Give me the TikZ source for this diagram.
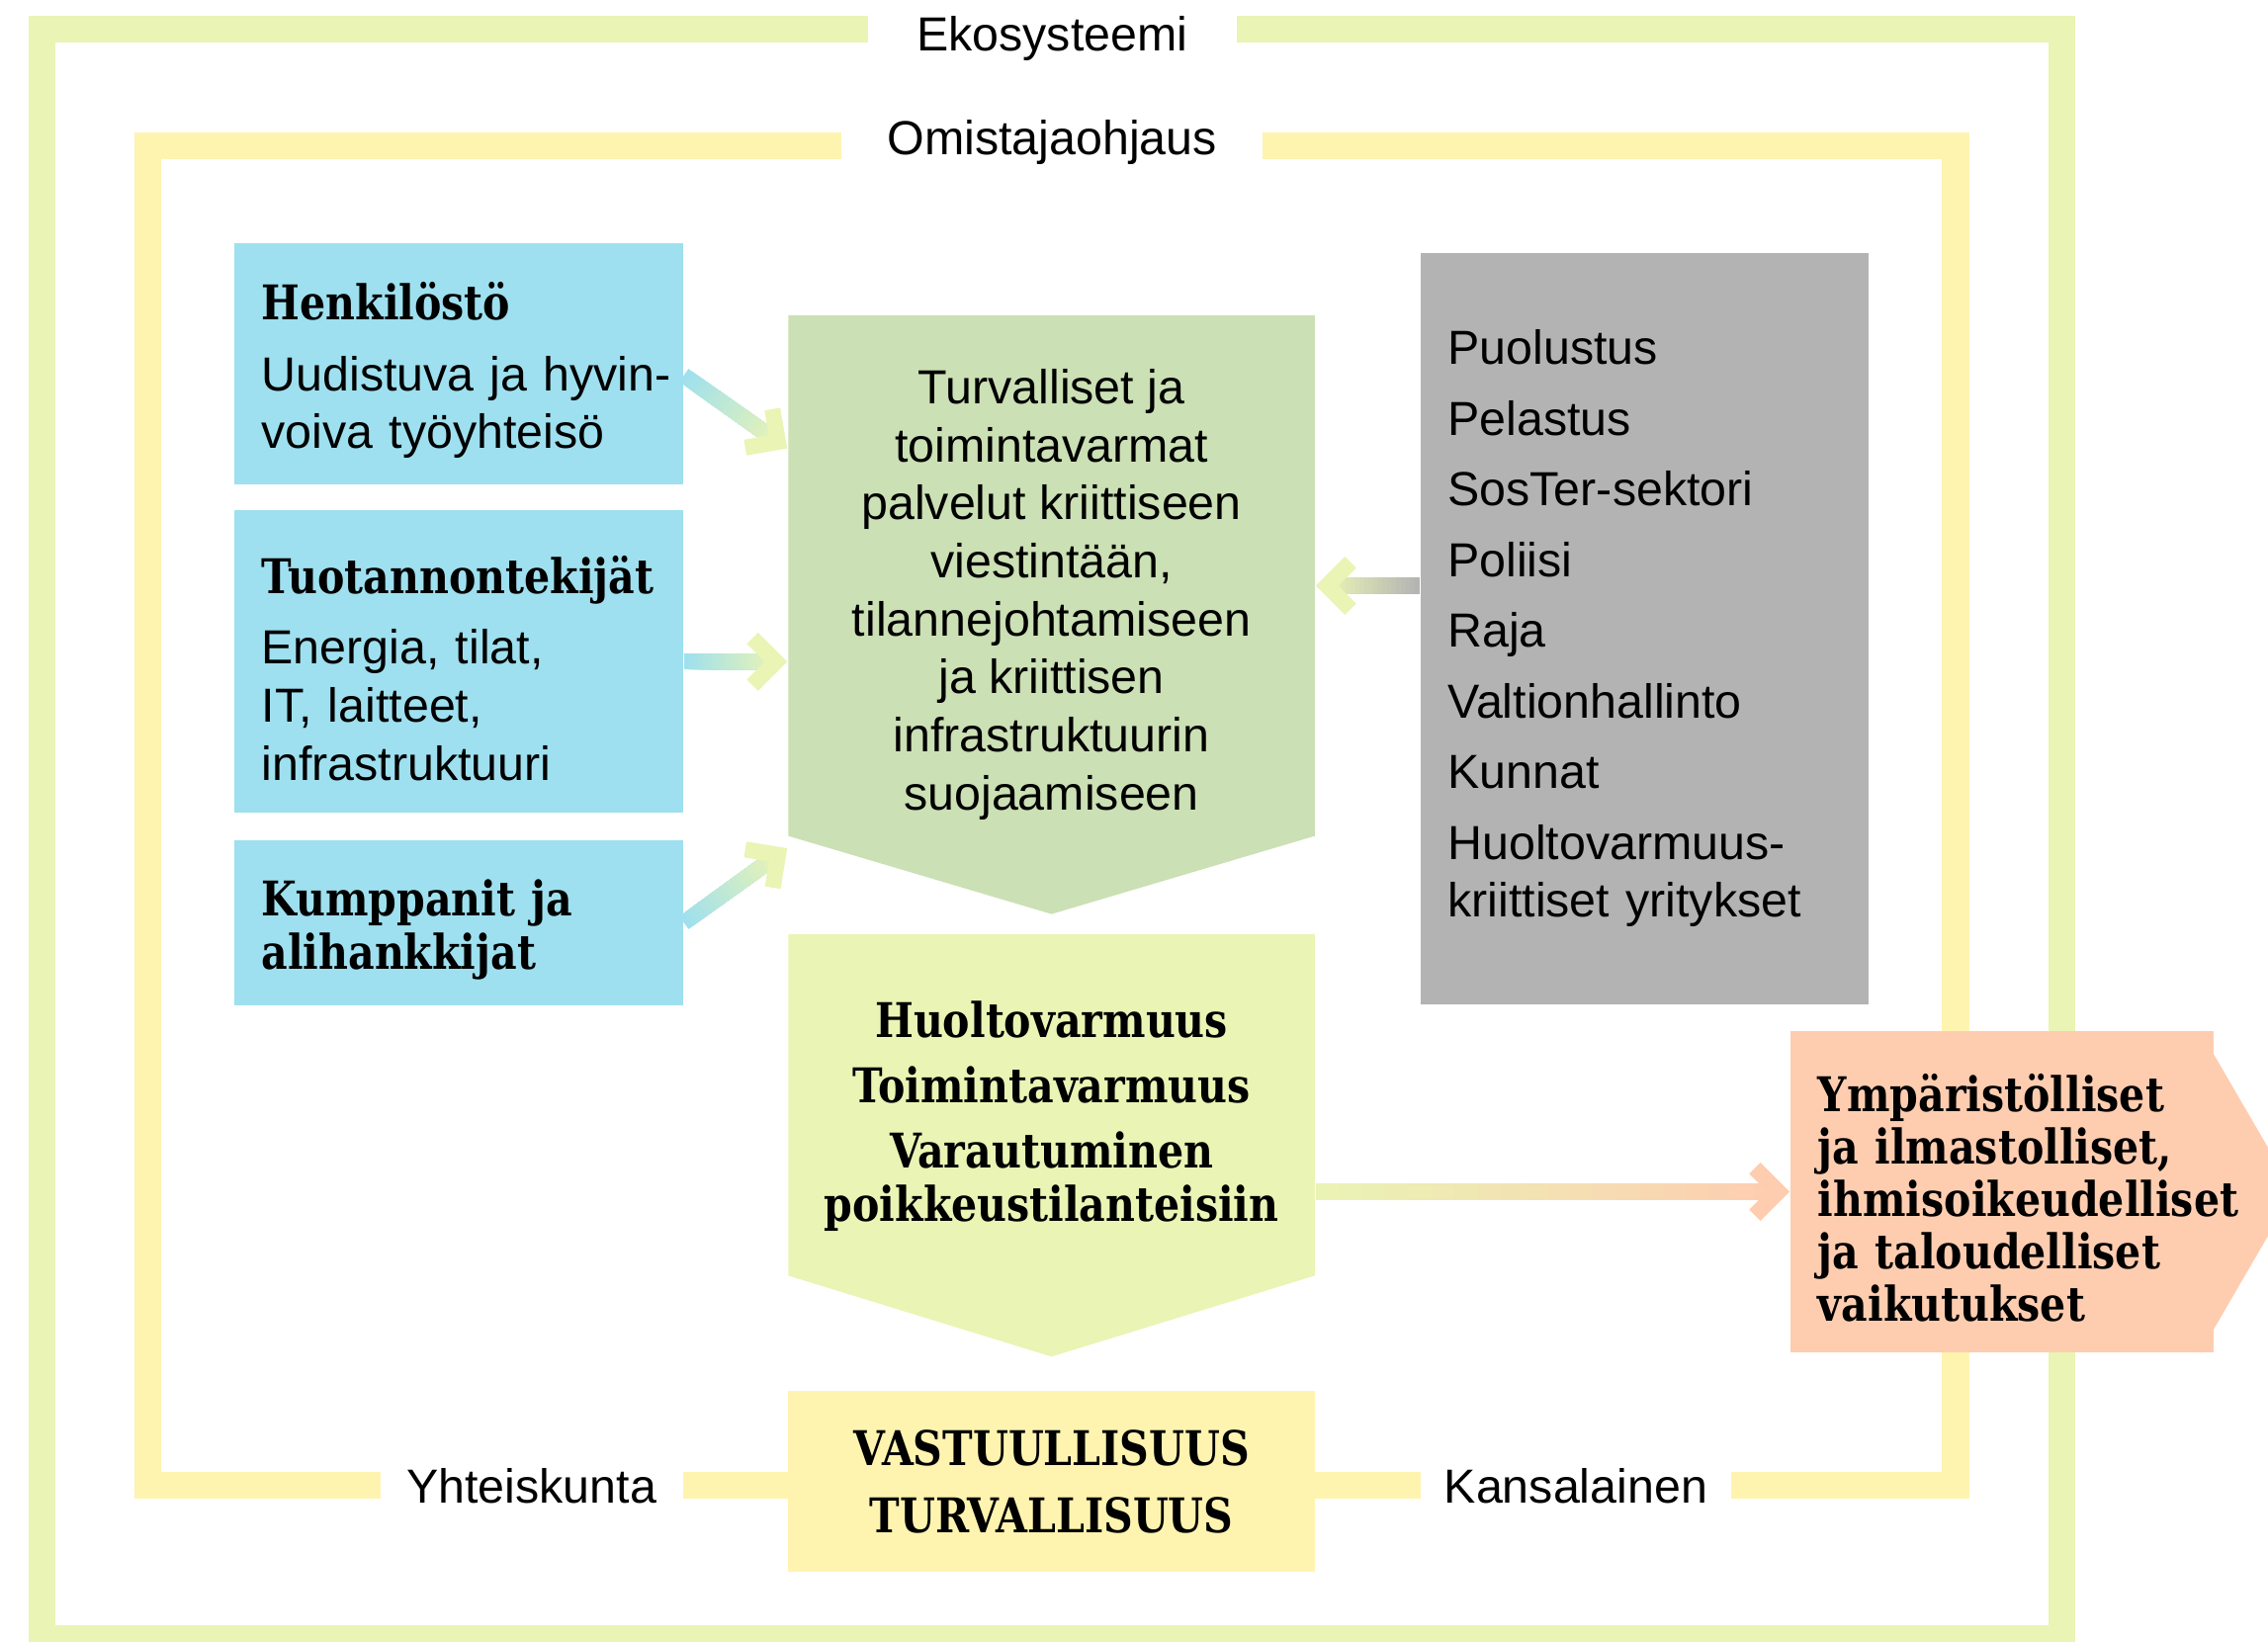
\documentclass[tikz,border=0pt]{standalone}
\usepackage{fontspec}
\setmainfont{Liberation Sans}
\newfontfamily\slab{DejaVu Serif}[FakeStretch=0.85]
\usetikzlibrary{calc}
\pgfdeclarelayer{background}
\pgfsetlayers{background,main}
\definecolor{ecogreen}{HTML}{EAF4B4}
\definecolor{ownyellow}{HTML}{FEF4B0}
\definecolor{boxblue}{HTML}{9EE0EF}
\definecolor{servgreen}{HTML}{CBE0B4}
\definecolor{govgray}{HTML}{B3B3B3}
\definecolor{impact}{HTML}{FECDB0}
\newcommand\plainfnt{\fontsize{9.4}{11.4}\selectfont}
\newcommand\slabfnt{\slab\bfseries\fontsize{9.4}{10.5}\selectfont}
\hyphenpenalty=10000
\exhyphenpenalty=10000
\tikzset{
    frame/.style={line width=0.185cm},
    framelabel/.style={fill=white, anchor=base, inner xsep=0pt, inner ysep=0.1cm, font=\plainfnt},
    sidebox/.style={fill=boxblue, minimum width=3.1cm, text width=2.72cm, inner xsep=0.19cm, inner ysep=0pt, align=left, font=\plainfnt},
    lowered/.style={execute at begin node={\rule{0pt}{10pt}}},
    midtext/.style={minimum width=3.64cm, inner xsep=0pt, inner ysep=0pt, align=center},
    shaft/.style={line width=0.11cm}
}
\begin{document}
\begin{tikzpicture}[x=0.01cm, y=-0.01cm]
    \useasboundingbox (0,0) rectangle (1568,1135);
    \draw[frame, ecogreen] (29,20) rectangle (1425.5,1133);
    \draw[frame, ownyellow] (102,100.5) rectangle (1352,1027);
    \node[framelabel, minimum width=2.55cm] (eko) at (727.5,35) {Ekosysteemi};
    \node[framelabel, minimum width=2.91cm] (omis) at (727.5,107) {Omistajaohjaus};
    \node[framelabel, minimum width=2.09cm] (yht) at (367.5,1039) {Yhteiskunta};
    \node[framelabel, minimum width=2.15cm] (kans) at (1089.5,1039) {Kansalainen};

    \fill[servgreen] (545,218) -- (909,218) -- (909,578) -- (727,632) -- (545,578) -- cycle;
    \fill[ecogreen] (545,646) -- (909,646) -- (909,882) -- (727,938) -- (545,882) -- cycle;
    \node[midtext, font=\plainfnt] (serv) at (727,411) {Turvalliset ja\\toimintavarmat\\palvelut kriittiseen\\viestintään,\\tilannejohtamiseen\\ja kriittisen\\infrastruktuurin\\suojaamiseen};
    \node[midtext, font=\slabfnt] (prep) at (727,772) {Huoltovarmuus\\[2.3pt]Toimintavarmuus\\[2.3pt]Varautuminen\\poikkeustilanteisiin};
    \node[midtext, fill=ownyellow, minimum height=1.25cm, font={\slabfnt\fontsize{9.4}{13.1}\selectfont}] (vast) at (727,1024.5) {VASTUULLISUUS\\TURVALLISUUS};

    \node[sidebox, lowered, minimum height=1.67cm] (henk) at (317,251.5) {{\slab\bfseries Henkilöstö}\\[2.5pt]Uudistuva~ja~hyvin-\\voiva~työyhteisö};
    \node[sidebox, lowered, minimum height=2.09cm] (tuot) at (317,457.5) {{\slab\bfseries Tuotannontekijät}\\[2.5pt]Energia, tilat,\\IT, laitteet,\\infrastruktuuri};
    \node[sidebox, lowered, minimum height=1.14cm, font=\slabfnt] (kump) at (317,638) {Kumppanit~ja\\alihankkijat};
    \node[sidebox, fill=govgray, minimum height=5.19cm] (gov) at (1137,434.5) {Puolustus\\[2.5pt]Pelastus\\[2.5pt]SosTer-sektori\\[2.5pt]Poliisi\\[2.5pt]Raja\\[2.5pt]Valtionhallinto\\[2.5pt]Kunnat\\[2.5pt]Huoltovarmuus-\\kriittiset~yritykset};
    \node[sidebox, lowered, fill=impact, minimum width=2.92cm, text width=2.54cm, minimum height=2.22cm, font={\slabfnt\fontsize{9.4}{10.3}\selectfont}] (imp) at (1384,824) {Ympäristölliset\\ja~ilmastolliset,\\ihmisoikeudelliset\\ja~taloudelliset\\vaikutukset};
    \begin{pgfonlayer}{background}
        \fill[impact] ($(imp.north east)+(-10,0)$) -- ($(imp.east)+(55,0)$) -- ($(imp.south east)+(-10,0)$) -- cycle;
    \end{pgfonlayer}

    \coordinate (henkout) at ($(henk.east)+(0,8)$);
    \coordinate (henkin) at ($(serv.west)+(0,-101)$);
    \coordinate (tuotin) at (tuot.east -| serv.west);
    \coordinate (kumpin) at ($(serv.west)+(0,175.5)$);
    \coordinate (govout) at ($(gov.west)+(0,-29.5)$);
    \coordinate (govin) at (govout -| serv.east);
    \coordinate (prepout) at (imp.west -| prep.east);
    \foreach \src/\dst/\ca/\cb in {henkout/henkin/boxblue/ecogreen, tuot.east/tuotin/boxblue/ecogreen, kump.east/kumpin/boxblue/ecogreen, govout/govin/govgray/ecogreen, prepout/imp.west/ecogreen/impact} {
        \coordinate (apex) at ($(\dst)!0.077cm!(\src)$);
        \foreach \i in {0,...,19} {
            \pgfmathtruncatemacro\mix{98-5*\i}
            \draw[shaft, color=\ca!\mix!\cb] ($(\src)!\i/20!(apex)$) -- (apex);
        }
        \draw[shaft, color=\cb] ($(apex)!0.23cm!45:(\src)$) -- (apex) -- ($(apex)!0.23cm!-45:(\src)$);
    }
\end{tikzpicture}
\end{document}
